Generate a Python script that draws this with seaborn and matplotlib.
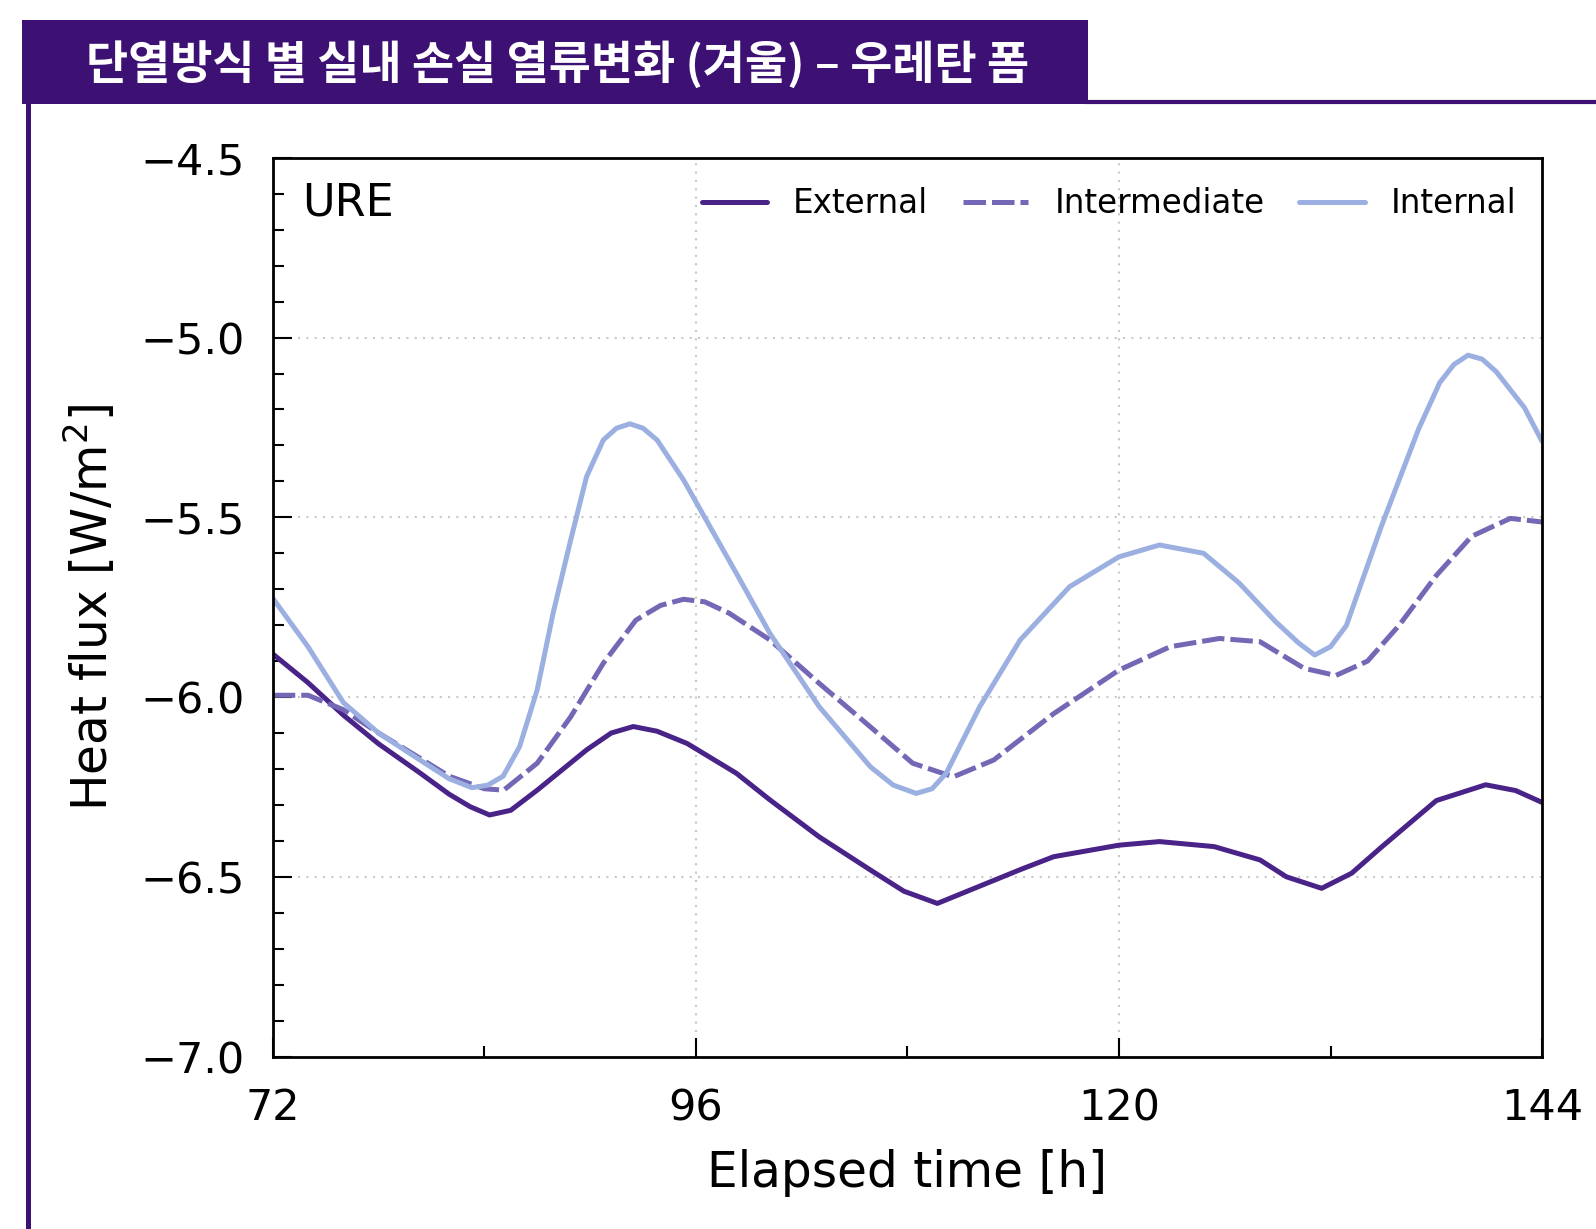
import matplotlib
matplotlib.use("Agg")
import matplotlib.pyplot as plt
import seaborn as sns
from matplotlib.patches import Rectangle
from matplotlib.lines import Line2D
from matplotlib.ticker import MultipleLocator


# data
ext_t = [72, 74, 76, 78, 80.35, 82, 83.2, 84.3, 85.5, 87, 89.8, 91.2, 92.45, 93.8, 95.5,
         98.3, 100.2, 103, 105.9, 107.8, 109.7, 112.5, 114.4, 116.3, 120, 122.3, 125.4,
         128, 129.5, 131.5, 133.2, 134.9, 138, 140.8, 142.5, 144]
ext_v = [-5.88, -5.96, -6.05, -6.13, -6.211, -6.27, -6.305, -6.328, -6.315, -6.259, -6.147,
         -6.10, -6.082, -6.095, -6.129, -6.212, -6.286, -6.389, -6.481, -6.54, -6.574,
         -6.518, -6.48, -6.444, -6.412, -6.402, -6.416, -6.453, -6.50, -6.532, -6.49,
         -6.417, -6.288, -6.244, -6.26, -6.293]

mid_t = [72, 74, 76, 78, 80.35, 82, 84, 85.1, 87, 88.9, 90.75, 92.6, 94, 95.3, 96.5, 97.9,
         100.2, 103, 105.9, 108.3, 110.6, 112.9, 116.3, 120, 122.9, 125.7, 128, 130.5,
         132.3, 134.1, 135.9, 138, 140, 142.2, 144]
mid_v = [-5.995, -5.995, -6.035, -6.10, -6.17, -6.22, -6.255, -6.259, -6.184, -6.055, -5.906,
         -5.786, -5.745, -5.728, -5.735, -5.767, -5.841, -5.962, -6.083, -6.184, -6.222,
         -6.175, -6.046, -5.925, -5.86, -5.837, -5.846, -5.92, -5.94, -5.90, -5.80, -5.662,
         -5.553, -5.503, -5.513]

int_t = [72, 74, 76, 78, 80.35, 82, 83.3, 84.2, 85.07, 86, 87, 87.9, 88.9, 89.8, 90.75,
         91.5, 92.26, 93.0, 93.8, 95.3, 96.8, 98.3, 100.2, 103, 105.9, 107.2, 108.5, 109.4,
         110.2, 112.1, 114.4, 117.2, 120, 122.3, 124.8, 126.8, 128.9, 130.2, 131.1, 132,
         132.9, 134.9, 137, 138.2, 139.0, 139.8, 140.6, 141.4, 143, 144]
int_v = [-5.725, -5.86, -6.015, -6.10, -6.175, -6.227, -6.252, -6.245, -6.22, -6.138, -5.98,
         -5.767, -5.563, -5.387, -5.285, -5.252, -5.24, -5.252, -5.285, -5.396, -5.526,
         -5.656, -5.823, -6.027, -6.194, -6.245, -6.268, -6.255, -6.212, -6.027, -5.841,
         -5.693, -5.61, -5.577, -5.60, -5.682, -5.791, -5.85, -5.883, -5.86, -5.801, -5.523,
         -5.254, -5.125, -5.075, -5.049, -5.06, -5.095, -5.195, -5.289]

labels = ["External", "Intermediate", "Internal"]
colors = ["#4a2389", "#7467b6", "#9bb0e1"]
title = "단열방식 별 실내 손실 열류변화 (겨울) – 우레탄 폼"
banner_color = "#3d1174"

sns.set_style("ticks")
plt.rcParams["font.family"] = ["DejaVu Sans"]
plt.rcParams["text.color"] = "black"
plt.rcParams["axes.labelcolor"] = "black"
plt.rcParams["xtick.color"] = "black"
plt.rcParams["ytick.color"] = "black"

fig = plt.figure(figsize=(15.96, 12.29), dpi=100)
ax = fig.add_axes([0.1709, 0.1403, 0.7953, 0.7313])

lw = 3.6
dash = (4.5, 1.2)
sns.lineplot(x=ext_t, y=ext_v, ax=ax, color=colors[0], linewidth=lw)
sns.lineplot(x=mid_t, y=mid_v, ax=ax, color=colors[1], linewidth=lw)
ax.lines[-1].set_dashes(dash)
sns.lineplot(x=int_t, y=int_v, ax=ax, color=colors[2], linewidth=lw)
for ln in ax.lines:
    ln.set_solid_joinstyle("round")
    ln.set_dash_joinstyle("round")

ax.set_xlim(72, 144)
ax.set_ylim(-7.0, -4.5)
ax.xaxis.set_major_locator(MultipleLocator(24))
ax.xaxis.set_minor_locator(MultipleLocator(12))
ax.yaxis.set_major_locator(MultipleLocator(0.5))
ax.yaxis.set_minor_locator(MultipleLocator(0.1))
ax.tick_params(which="both", direction="in", bottom=True, left=True, top=False,
               right=False, width=1.5)
ax.tick_params(which="major", length=14, labelsize=31)
ax.tick_params(which="minor", length=8)
ax.tick_params(axis="x", which="major", pad=22)
ax.tick_params(axis="y", which="major", pad=20)
for s in ax.spines.values():
    s.set_linewidth(2)
    s.set_color("black")
ax.grid(True, which="major", ls=(0, (1, 3)), color="#c8c8c8", lw=1.5)

ax.set_xlabel("Elapsed time [h]", fontsize=35, labelpad=14)
ax.set_ylabel("Heat flux [W/m$^2$]", fontsize=35, labelpad=16)
ax.text(0.023, 0.95, "URE", transform=ax.transAxes, fontsize=32, ha="left", va="center")

handles = [Line2D([], [], color=colors[0], lw=lw),
           Line2D([], [], color=colors[1], lw=lw, dashes=dash),
           Line2D([], [], color=colors[2], lw=lw)]
ax.legend(handles, labels, loc="upper right", ncol=3, frameon=False, fontsize=23.5,
          handlelength=2.0, handletextpad=0.8, columnspacing=1.07,
          bbox_to_anchor=(1.003, 1.0))

# header banner and frame lines
fig.patches.append(Rectangle((0.014, 0.9155), 0.6677, 0.0679, transform=fig.transFigure,
                             facecolor=banner_color, edgecolor="none", zorder=1))
fig.add_artist(Line2D([0.68, 1.0], [0.9166, 0.9166], transform=fig.transFigure,
                      color=banner_color, lw=3))
fig.add_artist(Line2D([0.0175, 0.0175], [0.0, 0.9155], transform=fig.transFigure,
                      color=banner_color, lw=3.6))
fig.text(0.054, 0.9475, title, color="white", fontsize=33, fontweight="bold",
         family=["Noto Sans CJK KR", "DejaVu Sans"], ha="left", va="center")

fig.savefig("out.png", dpi=100, facecolor="white")
